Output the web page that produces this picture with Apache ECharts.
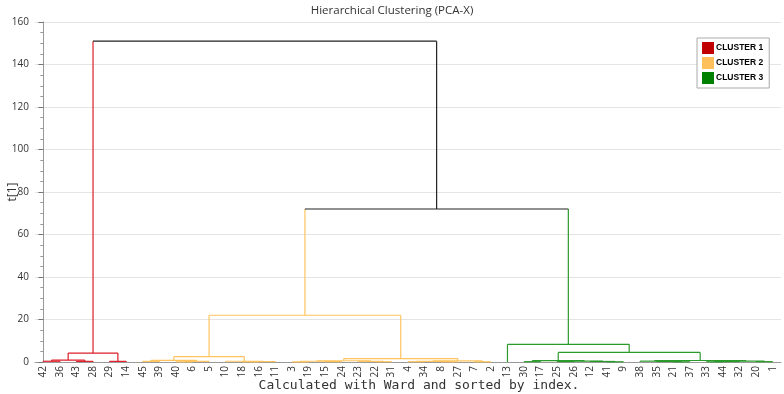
<!DOCTYPE html>
<html>
<head>
<meta charset="utf-8">
<script src="https://cdn.jsdelivr.net/npm/echarts@6/dist/echarts.min.js"></script>
<style>
  html, body { margin: 0; padding: 0; background: #fff; }
  #chart { width: 784px; height: 394px; }
</style>
</head>
<body>
<div id="chart"></div>
<script>
const chart = echarts.init(document.getElementById('chart'))

// leaf order along the x axis
const leafOrder = [42, 36, 43, 28, 29, 14, 45, 39, 40, 6, 5, 10, 18, 16, 11, 3, 19, 15, 24, 23, 22, 31, 4, 34, 8, 27, 7, 2,
  13, 30, 17, 25, 26, 12, 41, 9, 38, 35, 21, 37, 33, 44, 32, 20, 1]

const cluster1 = [42, 36, 43, 28, 29, 14]
const cluster2 = [45, 39, 40, 6, 5, 10, 18, 16, 11, 3, 19, 15, 24, 23, 22, 31, 4, 34, 8, 27, 7, 2]
const cluster3 = [13, 30, 17, 25, 26, 12, 41, 9, 38, 35, 21, 37, 33, 44, 32, 20, 1]

// [node, left, right, height]  (numbers = leaves, strings = merged nodes)
const merges = [
  ['r1', 42, 36, 0.35], ['r2', 43, 28, 0.3], ['r3', 'r1', 'r2', 0.9], ['r4', 29, 14, 0.3], ['R', 'r3', 'r4', 4.2],

  ['y1', 45, 39, 0.3], ['y2', 40, 6, 0.1], ['y3', 'y2', 5, 0.3], ['y4', 'y1', 'y3', 0.8],
  ['y5', 18, 16, 0.1], ['y6', 'y5', 11, 0.2], ['y7', 10, 'y6', 0.35], ['y8', 'y4', 'y7', 2.5],
  ['y9', 3, 19, 0.05], ['y10', 15, 24, 0.2], ['y11', 'y9', 'y10', 0.35],
  ['y12', 22, 31, 0.15], ['y13', 23, 'y12', 0.3], ['y14', 'y11', 'y13', 0.6],
  ['y15', 4, 34, 0.15], ['y16', 8, 27, 0.1], ['y17', 'y15', 'y16', 0.3], ['y18', 7, 2, 0.1],
  ['y19', 'y17', 'y18', 0.5], ['y20', 'y14', 'y19', 1.6], ['Y', 'y8', 'y20', 22],

  ['g1', 30, 17, 0.15], ['g2', 25, 26, 0.2], ['g3', 41, 9, 0.1], ['g4', 12, 'g3', 0.25],
  ['g5', 'g2', 'g4', 0.4], ['g6', 'g1', 'g5', 0.65],
  ['g7', 21, 37, 0.1], ['g8', 35, 'g7', 0.25], ['g9', 38, 'g8', 0.4],
  ['g10', 33, 44, 0.1], ['g11', 'g10', 32, 0.2], ['g12', 20, 1, 0.15], ['g13', 'g11', 'g12', 0.45],
  ['g14', 'g9', 'g13', 0.7], ['g15', 'g6', 'g14', 4.5], ['G', 13, 'g15', 8.3],

  ['t1', 'Y', 'G', 72], ['t2', 'R', 't1', 151]
]

const clusterNames = ['CLUSTER 1', 'CLUSTER 2', 'CLUSTER 3']
const legendColors = ['#c00000', '#ffc05c', '#008000']
const lineColors = ['#dc1e28', '#ffc45e', '#2a9a2a', '#222222']

// position / height / cluster for every node
let pos = {}, hgt = {}, clu = {}
leafOrder.forEach((leaf, i) => {
  pos[leaf] = i
  hgt[leaf] = 0
  clu[leaf] = cluster1.includes(leaf) ? 0 : cluster2.includes(leaf) ? 1 : 2
})

let links = [[], [], [], []]  // one list per cluster + black
let linkColors = [[], [], [], []]
merges.forEach(([name, a, b, h]) => {
  pos[name] = (pos[a] + pos[b]) / 2
  hgt[name] = h
  clu[name] = clu[a] === clu[b] ? clu[a] : 3
  links[clu[name]].push([pos[a], pos[b], hgt[a], hgt[b], h])
  linkColors[clu[name]].push([clu[a], clu[b], clu[name]])
})

function renderItem(params, api) {
  let c = linkColors[params.seriesIndex][params.dataIndex]
  let p1 = api.coord([api.value(0), api.value(2)])
  let p2 = api.coord([api.value(0), api.value(4)])
  let p3 = api.coord([api.value(1), api.value(4)])
  let p4 = api.coord([api.value(1), api.value(3)])
  let seg = (pts, k) => ({
    type: 'polyline',
    shape: { points: pts },
    style: { stroke: lineColors[k], fill: null, lineWidth: 1.2 }
  })
  return {
    type: 'group',
    children: [seg([p1, p2], c[0]), seg([p4, p3], c[1]), seg([p2, p3], c[2])]
  }
}

let series = clusterNames.map((name, i) => ({
  name: name,
  type: 'custom',
  xAxisIndex: 1,
  renderItem: renderItem,
  itemStyle: { color: legendColors[i] },
  encode: { x: [0, 1], y: [2, 3, 4] },
  data: links[i]
}))
series.push({
  name: 'link',
  type: 'custom',
  xAxisIndex: 1,
  renderItem: renderItem,
  itemStyle: { color: '#222' },
  encode: { x: [0, 1], y: [2, 3, 4] },
  data: links[3]
})

let option = {
  animation: false,
  textStyle: { fontFamily: 'Open Sans' },
  title: {
    text: 'Hierarchical Clustering (PCA-X)',
    left: 'center',
    top: 0,
    textStyle: { fontSize: 11.5, fontWeight: 'normal', color: '#333' }
  },
  legend: {
    data: clusterNames,
    orient: 'vertical',
    left: 697,
    top: 38,
    icon: 'rect',
    itemWidth: 12,
    itemHeight: 12,
    itemGap: 3,
    padding: [4, 6, 4, 5],
    backgroundColor: '#fff',
    borderColor: '#aaa',
    borderWidth: 1,
    textStyle: { fontSize: 8.5, fontWeight: 'bold', fontFamily: 'Liberation Sans', color: '#000', padding: [0, 0, 0, -3] }
  },
  grid: { left: 35, right: 3, top: 22, bottom: 32, containLabel: false, outerBoundsMode: 'none' },
  xAxis: [
    {
      type: 'category',
      data: leafOrder.map(String),
      name: 'Calculated with Ward and sorted by index.',
      nameLocation: 'middle',
      nameGap: 17,
      nameMoveOverlap: false,
      nameTextStyle: { fontFamily: 'DejaVu Sans Mono', fontSize: 13, color: '#333', padding: [0, 0, 0, 22] },
      axisLine: { lineStyle: { color: '#999' } },
      axisTick: { alignWithLabel: true, length: 4, lineStyle: { color: '#777' } },
      axisLabel: { interval: 0, rotate: 90, fontSize: 10, color: '#333', margin: 4 },
      splitLine: { show: false }
    },
    {
      type: 'value',
      min: -0.5,
      max: 44.5,
      show: false
    }
  ],
  yAxis: {
    type: 'value',
    min: 0,
    max: 160,
    interval: 20,
    name: 't[1]',
    nameLocation: 'middle',
    nameGap: 16,
    nameMoveOverlap: false,
    nameTextStyle: { fontSize: 12, color: '#333' },
    axisLine: { show: true, lineStyle: { color: '#999' } },
    axisTick: { show: true, length: 5, lineStyle: { color: '#777' } },
    minorTick: { show: true, splitNumber: 4, length: 3, lineStyle: { color: '#999' } },
    axisLabel: { fontSize: 10, color: '#333', margin: 6 },
    splitLine: { lineStyle: { color: '#e4e4e4' } }
  },
  series: series
}
chart.setOption(option)
</script>
</body>
</html>
